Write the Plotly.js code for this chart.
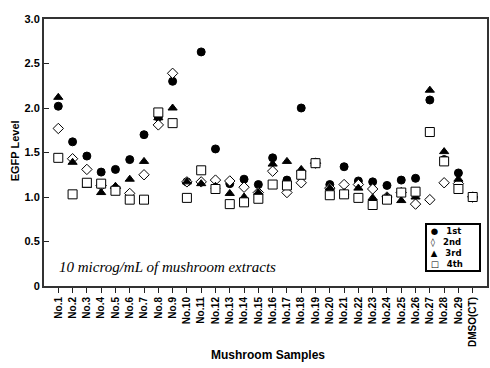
<!DOCTYPE html>
<html><head><meta charset="utf-8">
<script src="https://cdn.plot.ly/plotly-3.0.1.min.js"></script>
<style>html,body{margin:0;padding:0;background:#fff}#chart{width:490px;height:368px}</style>
</head><body><div id="chart"></div>
<script>
const categories = ["No.1","No.2","No.3","No.4","No.5","No.6","No.7","No.8","No.9","No.10",
  "No.11","No.12","No.13","No.14","No.15","No.16","No.17","No.18","No.19","No.20",
  "No.21","No.22","No.23","No.24","No.25","No.26","No.27","No.28","No.29","DMSO(CT)"];
const first  = [2.02,1.62,1.46,1.28,1.31,1.42,1.70,1.90,2.30,1.17,2.63,1.54,1.15,1.20,1.14,1.44,1.19,2.00,1.39,1.14,1.34,1.18,1.17,1.13,1.19,1.21,2.09,1.42,1.27,1.00];
const second = [1.77,1.43,1.31,1.13,1.10,1.04,1.25,1.81,2.39,1.17,1.17,1.19,1.18,1.11,1.05,1.29,1.05,1.16,1.38,1.10,1.14,1.14,1.09,1.00,1.05,0.92,0.97,1.16,1.15,1.00];
const third  = [2.12,1.39,1.13,1.05,1.12,1.20,1.40,1.89,2.00,1.17,1.15,1.12,1.04,1.00,1.05,1.37,1.40,1.31,1.38,1.10,1.05,1.10,0.99,1.00,0.96,1.00,2.20,1.51,1.20,1.00];
const fourth = [1.44,1.03,1.16,1.15,1.07,0.97,0.97,1.95,1.83,0.99,1.30,1.09,0.92,0.94,0.98,1.14,1.13,1.25,1.38,1.02,1.03,0.99,0.91,0.97,1.05,1.06,1.73,1.40,1.09,1.00];
const seriesNames = ["1st","2nd","3rd","4th"];
const legendGlyphs = ["\u25CF","\u25CA","\u25B2","\u25A1"];
const yTickVals = [0,0.5,1,1.5,2,2.5,3];
const yTickText = ["0","0.5","1.0","1.5","2.0","2.5","3.0"];

const xIdx = categories.map((c,i)=>i);
const mk = (name, y, symbol, color, size) => ({
  type:'scatter', mode:'markers', name, x:xIdx, y,
  marker:{symbol, color, size, line:{color:'#000', width:1}}
});
const data = [
  mk(seriesNames[0], first, 'circle', '#000', 8),
  mk(seriesNames[1], second, 'diamond', '#fff', 8),
  mk(seriesNames[2], third, 'triangle-up', '#000', 8),
  mk(seriesNames[3], fourth, 'square', '#fff', 9)
];
const legendText = seriesNames.map((n,i)=>'\u00a0'+legendGlyphs[i]+'\u00a0\u00a0\u00a0<b>'+n+'</b>').join('<br>');
const layout = {
  width:490, height:368,
  margin:{l:44, r:3, t:19, b:82},
  paper_bgcolor:'#fff', plot_bgcolor:'#fff',
  font:{family:'Liberation Sans, Arial, sans-serif', color:'#000', size:11},
  showlegend:false,
  xaxis:{range:[-1,30], tickvals:xIdx, ticktext:categories, tickangle:-90,
    tickfont:{size:10, weight:'bold'}, ticks:'outside', ticklen:5, tickcolor:'#222',
    showline:true, mirror:true, linecolor:'#333', linewidth:2, showgrid:false, zeroline:false},
  yaxis:{range:[0,3], tickvals:yTickVals, ticktext:yTickText,
    tickfont:{size:11, weight:'bold'}, ticks:'inside', ticklen:5, tickcolor:'#222',
    showline:true, mirror:true, linecolor:'#333', linewidth:2, showgrid:false, zeroline:false},
  annotations:[
    {text:'EGFP Level', xref:'paper', yref:'paper', x:-0.065, y:0.505, xanchor:'center', yanchor:'middle',
     textangle:-90, showarrow:false, font:{size:11, weight:'bold'}},
    {text:'Mushroom Samples', xref:'paper', yref:'paper', x:0.506, y:-0.258, xanchor:'center', yanchor:'middle',
     showarrow:false, font:{size:12, weight:'bold'}},
    {text:'10 microg/mL of mushroom extracts', xref:'paper', yref:'paper', x:0.029, y:0.071,
     xanchor:'left', yanchor:'middle', showarrow:false,
     font:{family:'Liberation Serif, serif', size:15, style:'italic'}},
    {text:legendText, xref:'paper', yref:'paper', x:0.986, y:0.052, xanchor:'right', yanchor:'bottom',
     align:'left', showarrow:false, bordercolor:'#000', borderwidth:2, borderpad:1, bgcolor:'#fff',
     width:50, font:{family:'DejaVu Sans', size:8.5, color:'#000'}}
  ]
};
Plotly.newPlot('chart', data, layout, {displayModeBar:false, staticPlot:true});
</script></body></html>
